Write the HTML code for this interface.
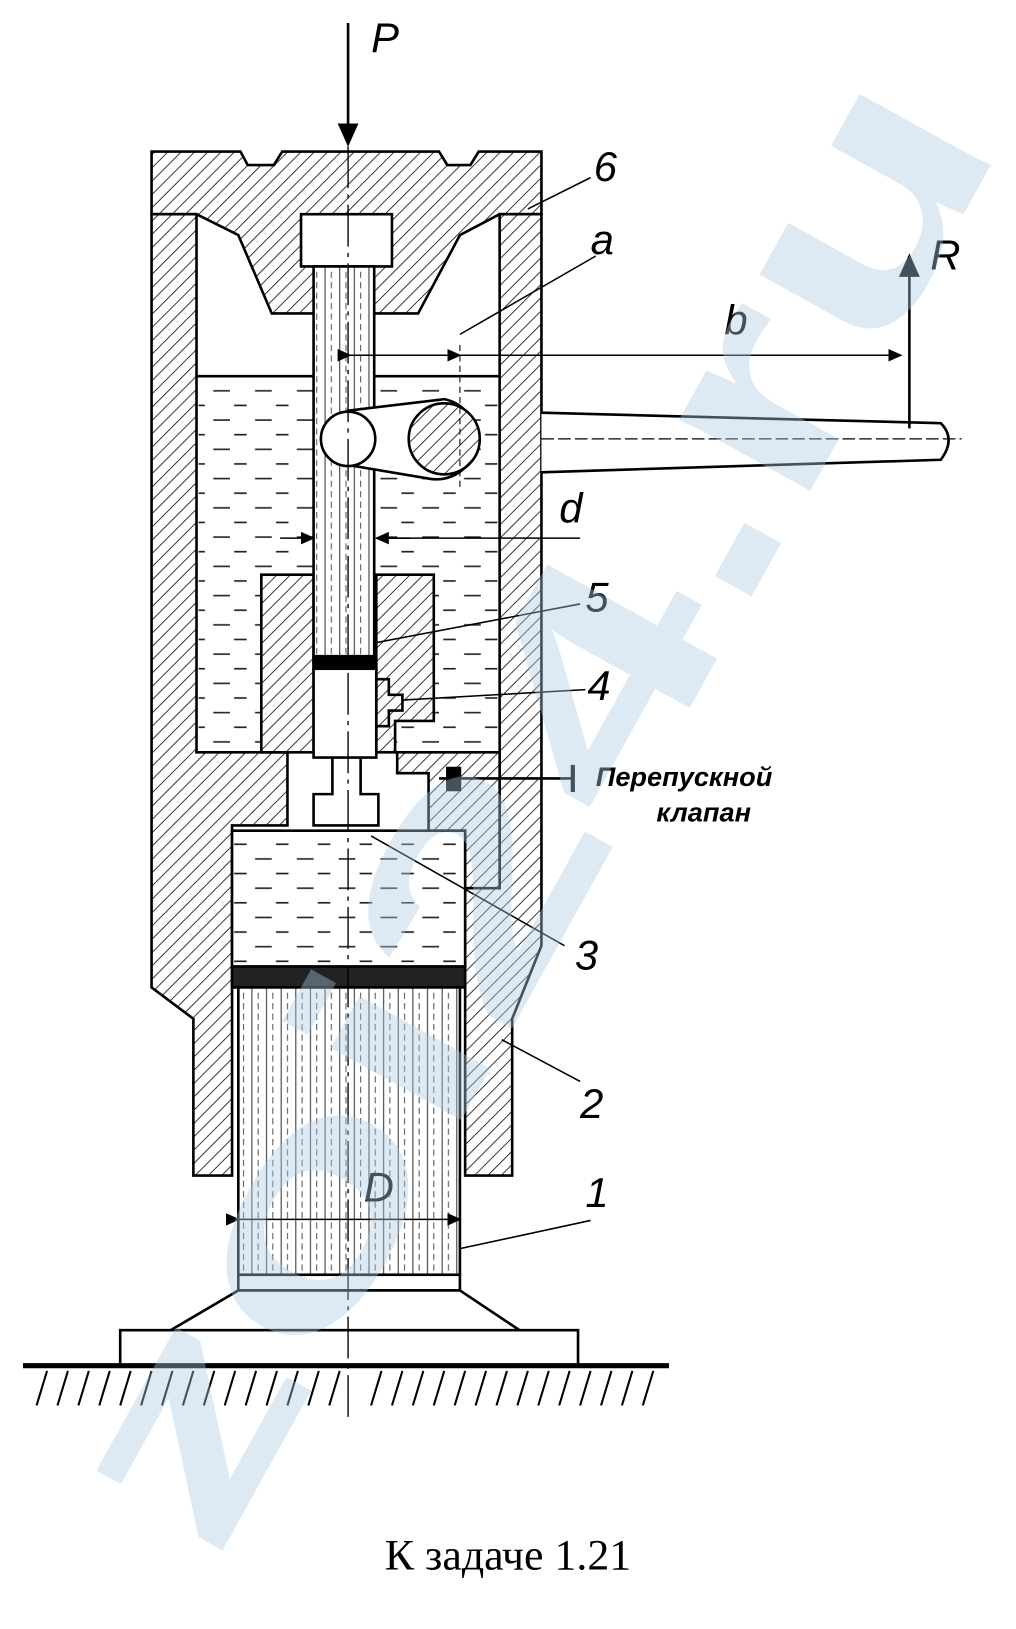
<!DOCTYPE html>
<html><head><meta charset="utf-8"><style>
html,body{margin:0;padding:0;background:#fff;width:1016px;height:1629px;overflow:hidden}
svg{display:block}
</style></head><body>
<svg width="1016" height="1629" viewBox="0 0 972 1559" preserveAspectRatio="none" xmlns="http://www.w3.org/2000/svg">
<defs>
<pattern id="h" width="9" height="9" patternUnits="userSpaceOnUse" patternTransform="rotate(45)">
<rect width="9" height="9" fill="#fff"/><line x1="0" y1="0" x2="0" y2="9" stroke="#111" stroke-width="1.6"/></pattern>
<pattern id="v" width="14" height="10" patternUnits="userSpaceOnUse">
<rect width="14" height="10" fill="#fff"/><line x1="3" y1="0" x2="3" y2="10" stroke="#333" stroke-width="1"/><line x1="9" y1="0" x2="9" y2="6" stroke="#555" stroke-width="1"/></pattern>
<pattern id="liq" width="40" height="28" patternUnits="userSpaceOnUse">
<rect width="40" height="28" fill="#fff"/><line x1="4" y1="10" x2="20" y2="10" stroke="#222" stroke-width="1.6"/><line x1="24" y1="24" x2="36" y2="24" stroke="#222" stroke-width="1.6"/></pattern>
<marker id="ar" markerWidth="10" markerHeight="10" refX="8" refY="5" orient="auto"><path d="M0,1 L9,5 L0,9 Z" fill="#000"/></marker>
</defs>
<g stroke="#000" stroke-width="2.5" fill="none">
<path d="M145,145 L230,145 L237,158 L262,158 L270,145 L420,145 L428,158 L450,158 L458,145 L518,145 L518,205 L478,205 L440,225 L400,300 L260,300 L228,225 L188,205 L145,205 Z" fill="url(#h)"/>
<path d="M145,205 L188,205 L188,720 L275,720 L275,790 L222,790 L222,1125 L185,1125 L185,975 L145,945 Z" fill="url(#h)"/>
<path d="M478,205 L518,205 L518,905 L490,975 L490,1125 L445,1125 L445,850 L478,850 Z" fill="url(#h)"/>
<rect x="190" y="360" width="286" height="358" fill="url(#liq)" stroke="none"/>
<line x1="188" y1="360" x2="478" y2="360"/>
<path d="M250,550 L300,550 L300,720 L250,720 Z M360,550 L415,550 L415,690 L378,690 L378,720 L360,720 Z" fill="url(#h)"/>
<path d="M380,720 L478,720 L478,850 L445,850 L445,795 L410,795 L410,740 L380,740 Z" fill="url(#h)"/>
<rect x="300" y="640" width="60" height="85" fill="#fff"/>
<path d="M360,650 L372,650 L372,665 L385,665 L385,680 L372,680 L372,695 L360,695"/>
<path d="M318,725 L318,760 L300,760 L300,790 L362,790 L362,760 L345,760 L345,725"/>
<line x1="420" y1="745" x2="548" y2="745"/>
<line x1="548" y1="732" x2="548" y2="758" stroke-width="4"/>
<path d="M428,735 L440,735 L440,756 L428,756 Z" fill="#000"/>
<rect x="288" y="205" width="87" height="50" fill="#fff"/>
<rect x="300" y="255" width="58" height="380" fill="url(#v)"/>
<path d="M300,628 L358,628 L358,640 L300,640 Z" fill="#000"/>
<path d="M333,393 L425,382 A38,38 0 1 1 410,458 L333,445 Z" fill="#fff"/>
<circle cx="333" cy="420" r="26" fill="#fff"/>
<circle cx="425" cy="420" r="34" fill="url(#h)"/>
<path d="M518,395 L900,405 Q915,420 900,440 L518,452" fill="#fff"/>
<line x1="518" y1="420" x2="920" y2="420" stroke-width="1.2" stroke-dasharray="12,4"/>
<rect x="222" y="795" width="223" height="130" fill="url(#liq)"/>
<path d="M222,925 L445,925 L445,945 L222,945 Z" fill="#222"/>
<rect x="228" y="945" width="212" height="275" fill="url(#v)"/>
<rect x="228" y="1220" width="212" height="15" fill="#fff"/>
<path d="M228,1235 L440,1235 L500,1275 L160,1275 Z" fill="#fff"/>
<rect x="115" y="1273" width="438" height="34" fill="#fff"/>
<line x1="22" y1="1307" x2="640" y2="1307" stroke-width="5"/>
</g>
<g stroke="#000" stroke-width="2">
<path d="M35,1345 L45,1312 M55,1345 L65,1312 M75,1345 L85,1312 M95,1345 L105,1312 M115,1345 L125,1312 M135,1345 L145,1312 M155,1345 L165,1312 M175,1345 L185,1312 M195,1345 L205,1312 M215,1345 L225,1312 M235,1345 L245,1312 M255,1345 L265,1312 M275,1345 L285,1312 M295,1345 L305,1312 M315,1345 L325,1312 M355,1345 L365,1312 M375,1345 L385,1312 M395,1345 L405,1312 M415,1345 L425,1312 M435,1345 L445,1312 M455,1345 L465,1312 M475,1345 L485,1312 M495,1345 L505,1312 M515,1345 L525,1312 M535,1345 L545,1312 M555,1345 L565,1312 M575,1345 L585,1312 M595,1345 L605,1312 M615,1345 L625,1312"/>
</g>
<g stroke="#000" fill="none">
<line x1="333" y1="22" x2="333" y2="138" stroke-width="2.5" marker-end="url(#ar)"/>
<line x1="333" y1="140" x2="333" y2="1360" stroke-width="1.3" stroke-dasharray="40,6,4,6"/>
<line x1="335" y1="340" x2="440" y2="340" stroke-width="1.5" marker-start="url(#ar)" marker-end="url(#ar)"/>
<line x1="440" y1="340" x2="862" y2="340" stroke-width="1.5" marker-end="url(#ar)"/>
<line x1="440" y1="330" x2="440" y2="470" stroke-width="1" stroke-dasharray="6,4"/>
<line x1="870" y1="410" x2="870" y2="245" stroke-width="2.5" marker-end="url(#ar)"/>
<line x1="268" y1="515" x2="300" y2="515" stroke-width="1.5" marker-end="url(#ar)"/>
<line x1="392" y1="515" x2="360" y2="515" stroke-width="1.5" marker-end="url(#ar)"/>
<line x1="360" y1="515" x2="555" y2="515" stroke-width="1.5"/>
<line x1="228" y1="1167" x2="440" y2="1167" stroke-width="1.5" marker-start="url(#ar)" marker-end="url(#ar)"/>
<path d="M505,200 L565,170 M440,320 L570,245 M360,615 L555,578 M385,670 L560,660 M355,800 L540,905 M480,995 L555,1035 M440,1195 L565,1168" stroke-width="1.5"/>
</g>
<g font-family="Liberation Sans, sans-serif" font-style="italic" font-size="40" fill="#000">
<text x="355" y="50">P</text>
<text x="568" y="173">6</text>
<text x="565" y="243">a</text>
<text x="693" y="320">b</text>
<text x="890" y="258">R</text>
<text x="535" y="500">d</text>
<text x="560" y="585">5</text>
<text x="562" y="670">4</text>
<text x="550" y="928">3</text>
<text x="555" y="1070">2</text>
<text x="560" y="1155">1</text>
<text x="348" y="1150">D</text>
<text x="570" y="752" font-size="26" font-weight="bold">Перепускной</text>
<text x="628" y="786" font-size="26" font-weight="bold">клапан</text>
</g>
<text x="486" y="1502" text-anchor="middle" font-family="Liberation Serif, serif" font-size="42" fill="#000">К задаче 1.21</text>
<g transform="translate(500,770) rotate(-61)">
<text x="0" y="95" text-anchor="middle" textLength="1560" lengthAdjust="spacingAndGlyphs" font-family="Liberation Sans, sans-serif" font-weight="bold" font-size="270" fill="#a9c8e0" fill-opacity="0.4">zoi24.ru</text>
</g>
</svg>
</body></html>
